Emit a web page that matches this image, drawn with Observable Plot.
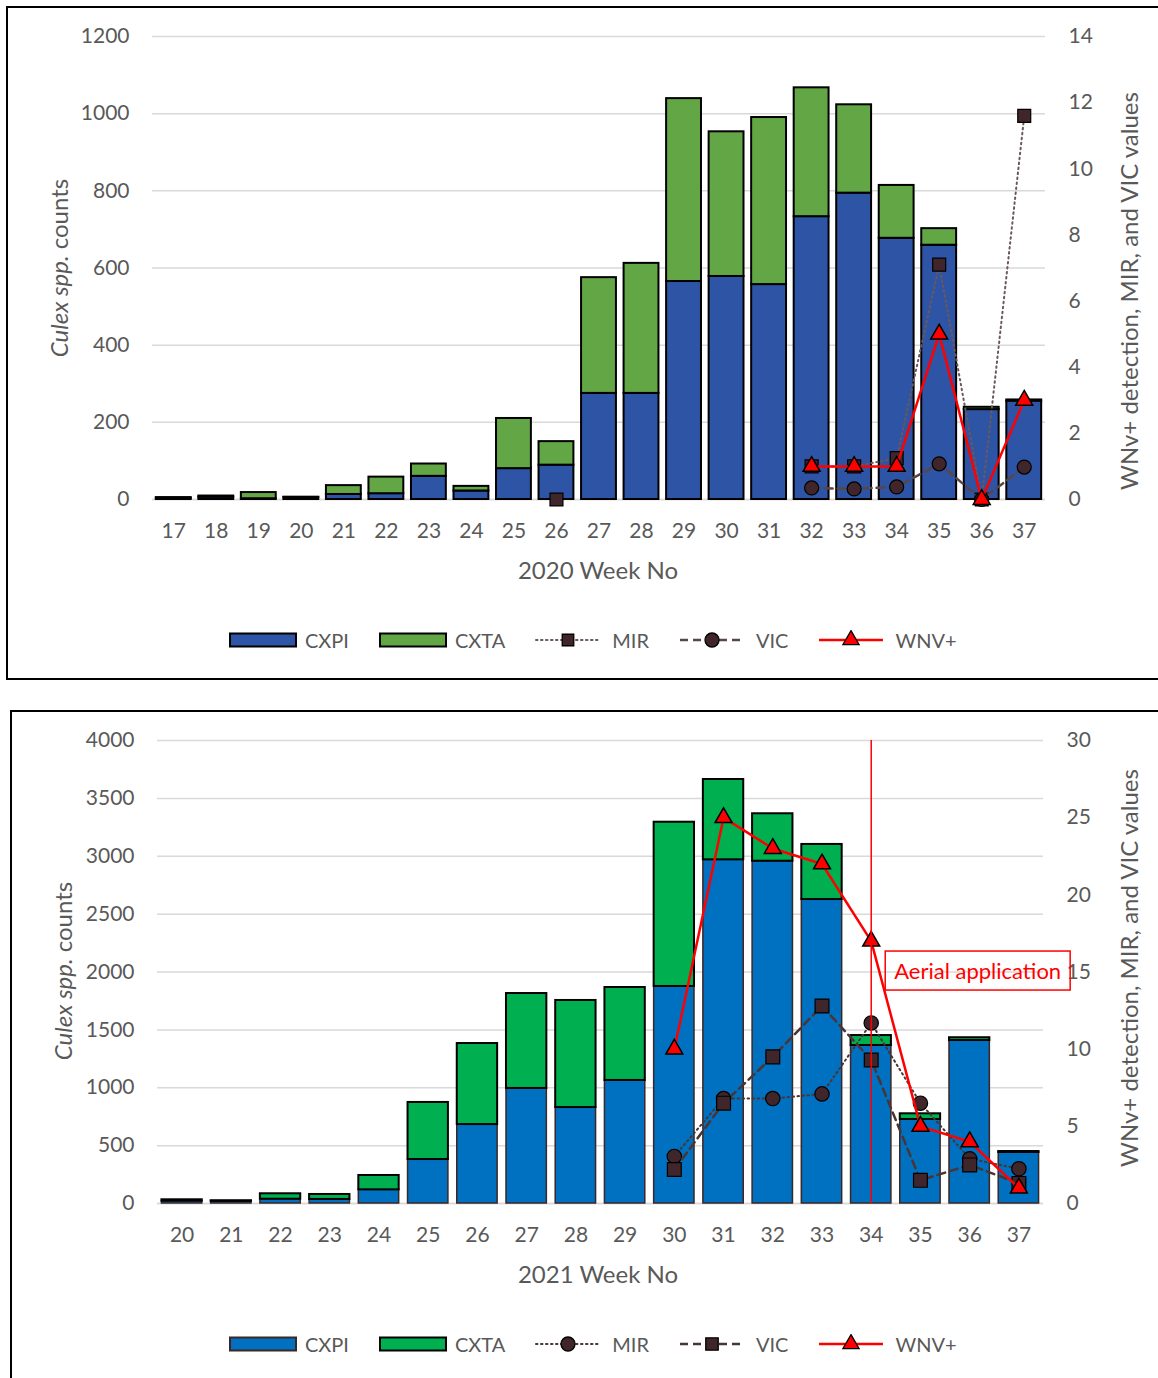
<!DOCTYPE html>
<html>
<head>
<meta charset="utf-8">
<script src="https://cdn.jsdelivr.net/npm/d3@7"></script>
<script src="https://cdn.jsdelivr.net/npm/@observablehq/plot@0.6"></script>
<style>
  body { margin: 0; background: #fff; font-family: Lato, "Open Sans", sans-serif; }
  #page { position: relative; width: 1158px; height: 1378px; overflow: hidden; }
  .frame { position: absolute; border: 2px solid #000; box-sizing: border-box; }
  .panel { position: absolute; left: 0; width: 1158px; }
  .layer { position: absolute; left: 0; top: 0; }
  .title { position: absolute; white-space: nowrap; color: #595959; font-size: 24px; transform: translate(-50%, -50%); }
  .title.rot { transform: translate(-50%, -50%) rotate(-90deg); }
</style>
</head>
<body>
<div id="page">
  <div class="frame" style="left:6px;top:6px;width:1170px;height:674px"></div>
  <div class="frame" style="left:10px;top:710px;width:1170px;height:700px"></div>
</div>
<script>
// ---- 2020 season ----
const weeks2020 = [17, 18, 19, 20, 21, 22, 23, 24, 25, 26, 27, 28, 29, 30, 31, 32, 33, 34, 35, 36, 37];
const cxpi2020 = [3, 6, 2, 5, 13, 15, 60, 22, 80, 89, 275, 275, 565, 578, 557, 733, 794, 677, 659, 233, 255];
const cxta2020 = [2, 3, 16, 1, 23, 43, 32, 12, 130, 61, 300, 337, 474, 375, 433, 334, 229, 137, 43, 6, 3];
const mir2020 = [null, null, null, null, null, null, null, null, null, 0, null, null, null, null, null, 1.0, 1.0, 1.25, 7.1, 0, 11.6];
const vic2020 = [null, null, null, null, null, null, null, null, null, null, null, null, null, null, null, 0.35, 0.32, 0.38, 1.08, 0, 0.98];
const wnv2020 = [null, null, null, null, null, null, null, null, null, null, null, null, null, null, null, 1, 1, 1, 5, 0, 3];
const countTicks2020 = [0, 200, 400, 600, 800, 1000, 1200];
const valueTicks2020 = [0, 2, 4, 6, 8, 10, 12, 14];

// ---- 2021 season ----
const weeks2021 = [20, 21, 22, 23, 24, 25, 26, 27, 28, 29, 30, 31, 32, 33, 34, 35, 36, 37];
const cxpi2021 = [20, 18, 37, 35, 118, 380, 682, 994, 829, 1063, 1875, 2969, 2957, 2626, 1365, 726, 1408, 441];
const cxta2021 = [12, 6, 47, 43, 124, 493, 700, 820, 925, 803, 1419, 694, 410, 476, 86, 49, 24, 8];
const mir2021 = [null, null, null, null, null, null, null, null, null, null, 3.05, 6.8, 6.8, 7.1, 11.7, 6.5, 2.9, 2.25];
const vic2021 = [null, null, null, null, null, null, null, null, null, null, 2.2, 6.5, 9.5, 12.8, 9.3, 1.5, 2.5, 1.3];
const wnv2021 = [null, null, null, null, null, null, null, null, null, null, 10, 25, 23, 22, 17, 5, 4, 1];
const countTicks2021 = [0, 500, 1000, 1500, 2000, 2500, 3000, 3500, 4000];
const valueTicks2021 = [0, 5, 10, 15, 20, 25, 30];
const aerialWeek = 34;
const aerialLabel = "Aerial application";
const aerialLabelLevel = 15;

const W = 1158;
const H = 600;
const TICK = "#595959";
const GRID = "#d9d9d9";
const LINE_DARK = "#4a3535";
const MARK_FILL = "#40262a";
const plain = d3.format("d");

function drawPanel(o) {
  const page = document.getElementById("page");
  const wrap = document.createElement("div");
  wrap.className = "panel";
  wrap.style.top = o.top + "px";
  wrap.style.height = H + "px";
  page.appendChild(wrap);

  const base = {
    width: W, height: H,
    marginLeft: o.left, marginRight: W - o.right, marginTop: 36, marginBottom: H - 499,
    style: {background: "transparent", fontFamily: "Lato, sans-serif", color: TICK, overflow: "visible"}
  };
  // equal, unrounded steps across the frame, with the gap split evenly at both ends
  const xScale = {type: "band", domain: o.weeks, paddingInner: 0.18, paddingOuter: 0.09, round: false};

  // counts: stacked bars on the left axis
  const bars = Plot.plot({
    ...base,
    x: {...xScale, label: null},
    y: {domain: [0, o.countTicks[o.countTicks.length - 1]], label: null},
    marks: [
      Plot.gridY(o.countTicks, {stroke: GRID, strokeOpacity: 1, strokeWidth: 1.5}),
      Plot.ruleY([0], {stroke: GRID, strokeWidth: 1.5}),
      Plot.barY(o.weeks, {x: d => d, y1: 0, y2: (d, i) => o.cxpi[i], fill: o.cxpiColor, stroke: o.cxpiStroke, strokeWidth: o.cxpiStrokeWidth}),
      Plot.barY(o.weeks, {x: d => d, y1: (d, i) => o.cxpi[i], y2: (d, i) => o.cxpi[i] + o.cxta[i], fill: o.cxtaColor, stroke: "#000", strokeWidth: 2}),
      Plot.axisY(o.countTicks, {tickSize: 0, tickPadding: 23, fontSize: 21, label: null, fill: TICK, tickFormat: plain}),
      Plot.axisX({tickSize: 0, tickPadding: 24, fontSize: 21, label: null, fill: TICK, tickFormat: plain})
    ]
  });
  bars.classList.add("layer");
  wrap.appendChild(bars);

  // detection values: lines and markers on the right axis
  const vmax = o.valueTicks[o.valueTicks.length - 1];
  const marks = [
    Plot.axisY(o.valueTicks, {anchor: "right", tickSize: 0, tickPadding: 23, fontSize: 21, label: null, fill: TICK, tickFormat: plain}),
    Plot.line(o.weeks, {x: d => d, y: (d, i) => o.mir[i], stroke: o.mirLine, strokeWidth: 2, strokeDasharray: "1.5,3.5", strokeLinecap: "round"}),
    Plot.dot(o.weeks, {x: d => d, y: (d, i) => o.mir[i], symbol: o.mirSymbol, r: o.mirSymbol === "square" ? 7.3 : 7.2, fill: MARK_FILL, stroke: "#000", strokeWidth: 1.2}),
    Plot.line(o.weeks, {x: d => d, y: (d, i) => o.vic[i], stroke: o.vicLine, strokeWidth: 2.5, strokeDasharray: "8,5"}),
    Plot.dot(o.weeks, {x: d => d, y: (d, i) => o.vic[i], symbol: o.vicSymbol, r: o.vicSymbol === "square" ? 7.8 : 7, fill: MARK_FILL, stroke: "#000", strokeWidth: 1.2}),
    Plot.line(o.weeks, {x: d => d, y: (d, i) => o.wnv[i], stroke: "#ff0000", strokeWidth: 2.5}),
    Plot.dot(o.weeks, {x: d => d, y: (d, i) => o.wnv[i], symbol: "triangle", r: 6.3, fill: "#ff0000", stroke: "#000", strokeWidth: 1.5})
  ];
  if (o.event) {
    marks.push(Plot.ruleX([o.event.week], {stroke: "#ff0000", strokeWidth: 1.5}));
    marks.push(Plot.text([o.event], {x: "week", y: "level", text: "label", dx: 23, textAnchor: "start", fill: "#ff0000", fontSize: 22, className: "event-label"}));
  }
  const lines = Plot.plot({
    ...base,
    x: {...xScale, axis: null},
    y: {domain: [0, vmax], axis: null},
    marks
  });
  lines.classList.add("layer");
  wrap.appendChild(lines);

  // outline box round the event label
  if (o.event) {
    const t = lines.querySelector(".event-label text");
    if (t) {
      const b = t.getBBox();
      const g = t.parentNode;
      const r = document.createElementNS("http://www.w3.org/2000/svg", "rect");
      r.setAttribute("x", b.x - 9);
      r.setAttribute("y", b.y - 6);
      r.setAttribute("width", b.width + 18);
      r.setAttribute("height", b.height + 12);
      r.setAttribute("fill", "none");
      r.setAttribute("stroke", "#ff0000");
      r.setAttribute("stroke-width", 1.5);
      const tr = t.getAttribute("transform");
      if (tr) r.setAttribute("transform", tr);
      g.insertBefore(r, t);
    }
  }

  // axis titles
  const addTitle = (html, x, y, rot) => {
    const d = document.createElement("div");
    d.className = "title" + (rot ? " rot" : "");
    d.style.left = x + "px";
    d.style.top = y + "px";
    d.innerHTML = html;
    wrap.appendChild(d);
  };
  addTitle("<i>Culex spp.</i> counts", o.leftTitleX, o.leftTitleY, true);
  addTitle("WNv+ detection, MIR, and VIC values", 1128, o.rightTitleY, true);
  addTitle(o.xTitle, 598, 569, false);

  // legend
  const row = document.createElement("div");
  row.style.cssText = "position:absolute;left:229px;top:628px;display:flex;align-items:center;gap:30px;font-size:20px;color:#595959;white-space:nowrap";
  for (const it of o.legend) {
    const item = document.createElement("div");
    const bar = it.kind === "bar";
    item.style.cssText = "display:flex;align-items:center;gap:" + (bar ? 8 : 11) + "px";
    const sw = bar ? 68 : 66;
    const svg = d3.create("svg").attr("width", sw).attr("height", 20).style("display", "block");
    if (bar) {
      svg.append("rect").attr("x", 1).attr("y", 3.5).attr("width", sw - 2).attr("height", 13)
        .attr("fill", it.fill).attr("stroke", it.stroke).attr("stroke-width", 2);
    } else {
      svg.append("line").attr("x1", 1).attr("x2", sw - 1).attr("y1", 10).attr("y2", 10)
        .attr("stroke", it.line).attr("stroke-width", it.width).attr("stroke-dasharray", it.dash)
        .attr("stroke-linecap", it.dash === "1.5,3.5" ? "round" : "butt");
      const sym = {square: d3.symbolSquare, circle: d3.symbolCircle, triangle: d3.symbolTriangle}[it.symbol];
      svg.append("path").attr("transform", `translate(${sw / 2},10)`)
        .attr("d", d3.symbol(sym, Math.PI * it.r * it.r)())
        .attr("fill", it.fill).attr("stroke", "#000").attr("stroke-width", 1.3);
    }
    item.appendChild(svg.node());
    const label = document.createElement("span");
    label.textContent = it.name;
    item.appendChild(label);
    row.appendChild(item);
  }
  wrap.appendChild(row);
}

drawPanel({
  top: 0, left: 152, right: 1045,
  weeks: weeks2020, cxpi: cxpi2020, cxta: cxta2020, mir: mir2020, vic: vic2020, wnv: wnv2020,
  countTicks: countTicks2020, valueTicks: valueTicks2020,
  cxpiColor: "#2e54a5", cxpiStroke: "#000", cxpiStrokeWidth: 2, cxtaColor: "#63a645",
  mirSymbol: "square", vicSymbol: "circle", mirLine: "#6b5858", vicLine: "#5a4646",
  leftTitleX: 58, leftTitleY: 268, rightTitleY: 291, xTitle: "2020 Week No",
  legend: [
    {name: "CXPI", kind: "bar", fill: "#2e54a5", stroke: "#000"},
    {name: "CXTA", kind: "bar", fill: "#63a645", stroke: "#000"},
    {name: "MIR", kind: "line", line: "#6b5858", width: 2, dash: "1.5,3.5", symbol: "square", r: 6.5, fill: MARK_FILL},
    {name: "VIC", kind: "line", line: "#5a4646", width: 2.5, dash: "8,5", symbol: "circle", r: 7, fill: MARK_FILL},
    {name: "WNV+", kind: "line", line: "#ff0000", width: 2.5, dash: null, symbol: "triangle", r: 6, fill: "#ff0000"}
  ]
});

drawPanel({
  top: 704, left: 157, right: 1043,
  weeks: weeks2021, cxpi: cxpi2021, cxta: cxta2021, mir: mir2021, vic: vic2021, wnv: wnv2021,
  countTicks: countTicks2021, valueTicks: valueTicks2021,
  cxpiColor: "#0070c0", cxpiStroke: "#3b2626", cxpiStrokeWidth: 1.5, cxtaColor: "#00b050",
  mirSymbol: "circle", vicSymbol: "square", mirLine: LINE_DARK, vicLine: LINE_DARK,
  event: {week: aerialWeek, level: aerialLabelLevel, label: aerialLabel},
  leftTitleX: 62, leftTitleY: 267, rightTitleY: 264, xTitle: "2021 Week No",
  legend: [
    {name: "CXPI", kind: "bar", fill: "#0070c0", stroke: "#3b2626"},
    {name: "CXTA", kind: "bar", fill: "#00b050", stroke: "#000"},
    {name: "MIR", kind: "line", line: LINE_DARK, width: 2, dash: "1.5,3.5", symbol: "circle", r: 7, fill: MARK_FILL},
    {name: "VIC", kind: "line", line: LINE_DARK, width: 2.5, dash: "8,5", symbol: "square", r: 7, fill: MARK_FILL},
    {name: "WNV+", kind: "line", line: "#ff0000", width: 2.5, dash: null, symbol: "triangle", r: 6, fill: "#ff0000"}
  ]
});
</script>
</body>
</html>
